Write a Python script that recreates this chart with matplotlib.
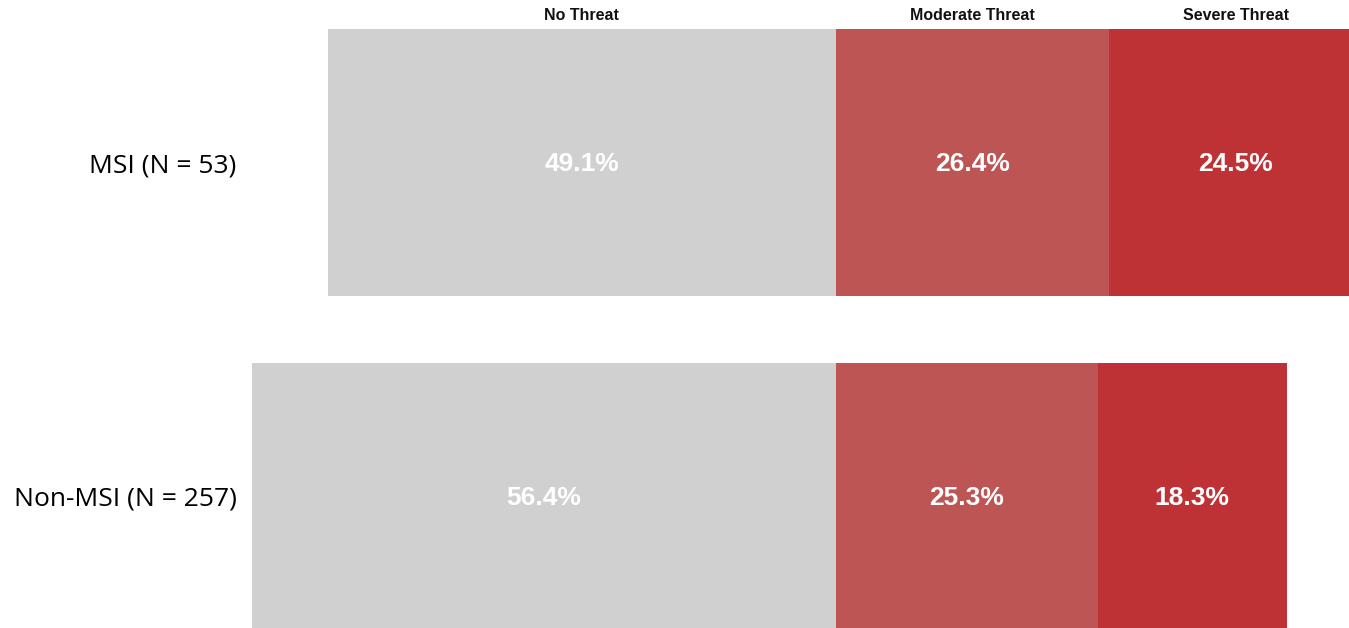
import matplotlib
matplotlib.use('Agg')
import matplotlib.pyplot as plt
from matplotlib.transforms import blended_transform_factory

groups = ['Non-MSI (N = 257)', 'MSI (N = 53)']
categories = ['No Threat', 'Moderate Threat', 'Severe Threat']
no_threat = [56.4, 49.1]
moderate = [25.3, 26.4]
severe = [18.3, 24.5]
colors = ['#D0D0D0', '#BD5555', '#BE3235']

fig = plt.figure(figsize=(13.49, 6.28), dpi=100)
ax = fig.add_axes([252 / 1349, 0, 1 - 252 / 1349, (628 - 29) / 628])

y = [0, 1]
h = 0.8
# bars diverge from 0: no threat to the left, threat to the right
ax.barh(y, [-v for v in no_threat], height=h, color=colors[0], linewidth=0)
ax.barh(y, moderate, height=h, color=colors[1], linewidth=0)
ax.barh(y, severe, left=moderate, height=h, color=colors[2], linewidth=0)

for i in range(len(y)):
    yy = y[i] - 0.005
    ax.text(-no_threat[i] / 2, yy, f'{no_threat[i]}%', ha='center', va='center',
            color='white', fontsize=19, fontweight='bold', family='Liberation Sans')
    ax.text(moderate[i] / 2, yy, f'{moderate[i]}%', ha='center', va='center',
            color='white', fontsize=19, fontweight='bold', family='Liberation Sans')
    ax.text(moderate[i] + severe[i] / 2, yy, f'{severe[i]}%', ha='center', va='center',
            color='white', fontsize=19, fontweight='bold', family='Liberation Sans')

# category headers over the top bar
tr = blended_transform_factory(ax.transData, ax.transAxes)
top = len(y) - 1
centers = [-no_threat[top] / 2, moderate[top] / 2, moderate[top] + severe[top] / 2]
for c, lab in zip(centers, categories):
    ax.text(c, 1.0 + 13 / 599, lab, transform=tr, ha='center', va='center',
            fontsize=11.5, fontweight='bold', family='Liberation Sans', color='#111111')

ax.set_xlim(-56.4, 49.6)
ax.set_ylim(-0.394, 1.4)
ax.set_yticks(y)
ax.set_yticklabels(groups, fontsize=19, family='Open Sans')
ax.tick_params(axis='y', length=0, pad=11)
ax.set_xticks([])
for s in ax.spines.values():
    s.set_visible(False)

fig.savefig('out.png', dpi=100)
